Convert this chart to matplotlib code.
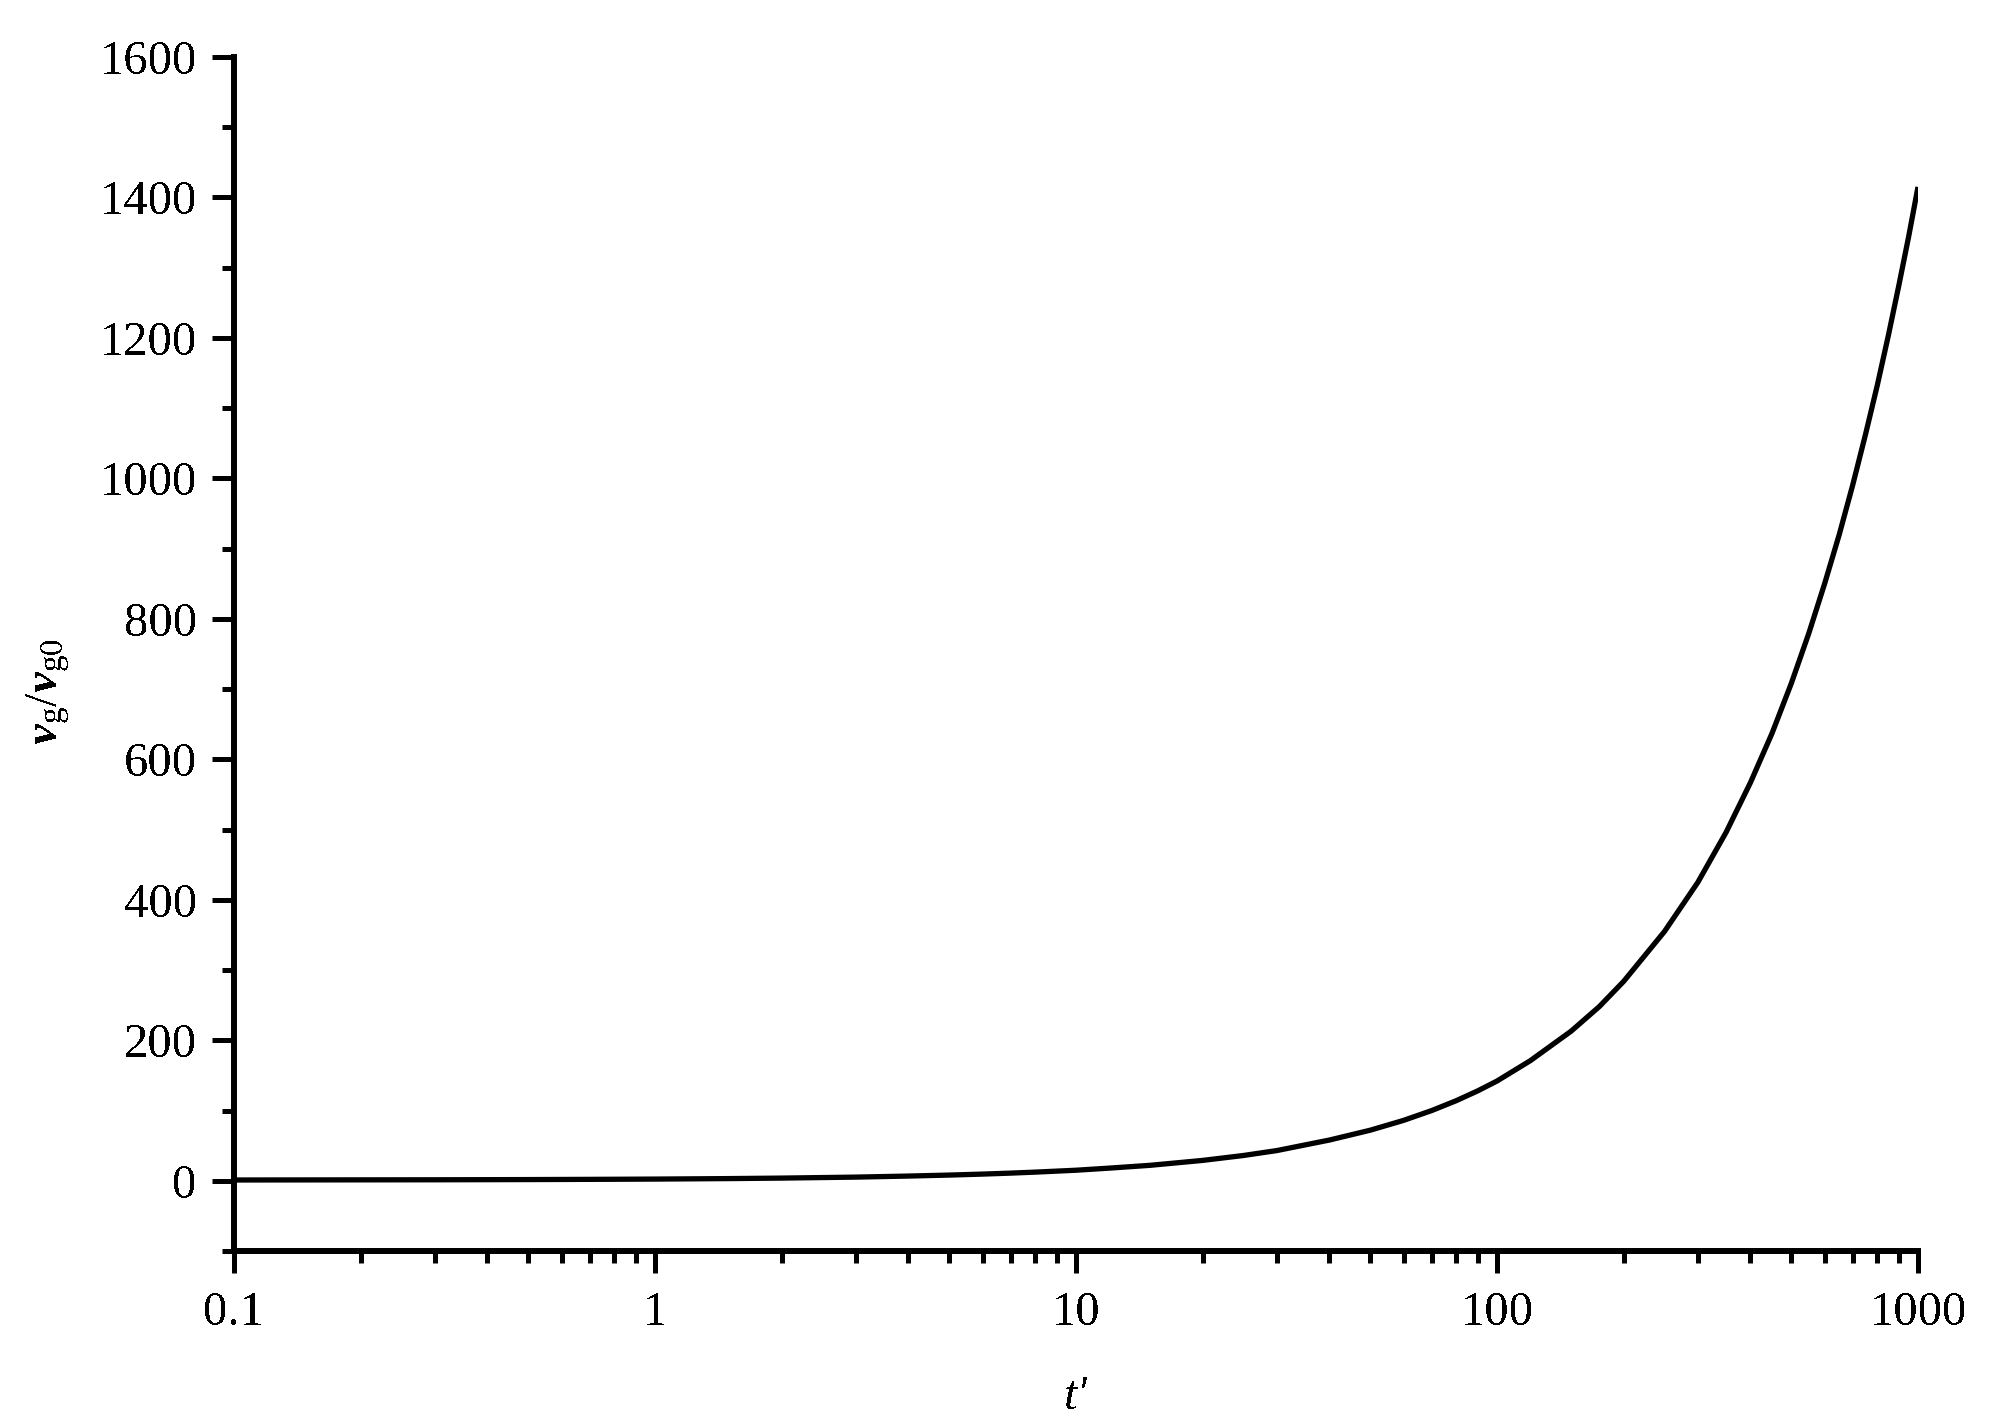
import matplotlib
matplotlib.use("Agg")
import matplotlib.pyplot as plt
from matplotlib.ticker import MultipleLocator, LogLocator, FixedLocator, FixedFormatter, NullFormatter

# Data
t_values = [0.1, 0.2, 0.3, 0.5, 0.7, 1, 1.5, 2, 3, 4, 5, 6, 7, 8, 10, 12, 15, 20, 25, 30,
            40, 50, 60, 70, 80, 90, 100, 120, 150, 175, 200, 250, 300, 350, 400, 450,
            500, 550, 600, 650, 700, 750, 800, 850, 900, 950, 1000]
v_ratio = [1.1, 1.3, 1.4, 1.7, 2.0, 2.4, 3.1, 3.8, 5.2, 6.7, 8.1, 9.5, 10.9, 12.3, 15, 18, 22, 29, 36, 43,
           58, 72, 86, 100, 114, 128, 142, 171, 213, 248, 284, 355, 425, 496, 567, 637,
           708, 779, 850, 920, 991, 1062, 1132, 1203, 1274, 1344, 1415]

x_tick_values = [0.1, 1, 10, 100, 1000]
x_tick_labels = ["0.1", "1", "10", "100", "1000"]
y_tick_values = [0, 200, 400, 600, 800, 1000, 1200, 1400, 1600]

plt.rcParams["font.family"] = ["Liberation Serif", "DejaVu Serif"]
plt.rcParams["mathtext.fontset"] = "custom"
plt.rcParams["mathtext.rm"] = "Liberation Serif"
plt.rcParams["mathtext.it"] = "Liberation Serif:italic"
plt.rcParams["mathtext.bf"] = "Liberation Serif:bold"
plt.rcParams["mathtext.bfit"] = "Liberation Serif:italic:bold"
plt.rcParams["text.antialiased"] = False

fig = plt.figure(figsize=(19.95, 14.27), dpi=100)
ax = fig.add_axes([234 / 1995, 1 - 1251 / 1427, (1918 - 234) / 1995, (1251 - 57) / 1427])

ax.plot(t_values, v_ratio, color="black", lw=3.8, solid_capstyle="butt")

ax.set_xscale("log")
ax.set_xlim(0.1, 1000)
ax.set_ylim(-100, 1600)

ax.xaxis.set_major_locator(FixedLocator(x_tick_values))
ax.xaxis.set_major_formatter(FixedFormatter(x_tick_labels))
ax.xaxis.set_minor_locator(LogLocator(base=10, subs=[2, 3, 4, 5, 6, 7, 8, 9], numticks=20))
ax.xaxis.set_minor_formatter(NullFormatter())

ax.yaxis.set_major_locator(FixedLocator(y_tick_values))
ax.yaxis.set_minor_locator(MultipleLocator(100))

for s in ["top", "right"]:
    ax.spines[s].set_visible(False)
for s in ["left", "bottom"]:
    ax.spines[s].set_linewidth(4.3)

ax.tick_params(which="major", direction="out", length=15.8, width=3.6, labelsize=35, pad=11)
ax.tick_params(which="minor", direction="out", length=8.8, width=3.6)
ax.tick_params(axis="x", which="major", pad=13)

ax.set_xlabel("t'", fontsize=35, fontstyle="italic")
ax.xaxis.set_label_coords(0.5, -0.104)

ax.set_ylabel(r"$\mathbfit{v}_{\mathrm{g}}/\mathbfit{v}_{\mathrm{g0}}$", fontsize=34,
              ha="center", va="center", rotation_mode="default")
ax.yaxis.set_label_coords(-0.110, 0.469)

fig.savefig("out.png", dpi=100)
